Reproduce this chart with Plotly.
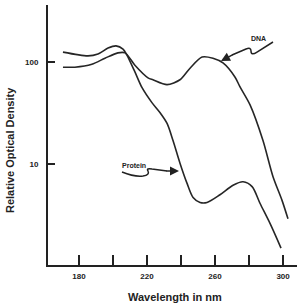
import plotly.graph_objects as go

# Data
protein_nm = [170.6, 185.3, 191.2, 197.1, 201.8, 205.9, 208.2, 212.9, 217.1, 222.9, 227.6, 231.8,
              235.3, 239.4, 243.5, 247.1, 251.2, 255.3, 262.9, 270.6, 276.5, 281.8, 286.5, 292.4, 298.8]
protein_od = [125, 115, 120, 137, 144, 134, 117, 80, 56, 40, 32, 25,
              17, 10.2, 6.5, 4.7, 4.2, 4.2, 5.0, 6.2, 6.7, 6.0, 4.1, 2.6, 1.5]
dna_nm = [170.6, 177.6, 187.6, 195.3, 202.9, 207.1, 212.9, 220.6, 223.5, 231.8, 239.4, 245.3,
          252.4, 258.8, 264.7, 271.8, 274.7, 280.6, 288.2, 294.1, 299.4, 302.9]
dna_od = [89, 89, 95, 109, 123, 123, 93, 70, 67, 60, 67, 87,
          112, 109, 98, 71, 57, 38, 17, 7.5, 4.4, 2.9]

x_tickvals = [180, 200, 220, 240, 260, 280, 300]
x_ticktext = ["180", "", "220", "", "260", "", "300"]
y_tickvals = [10, 100]
y_ticktext = ["10", "100"]

W, H = 297, 305
L, R, T, B = 48, 0, 5, 40
PW, PH = W - L - R, H - T - B

def px(x):
    return (x - L) / PW

def py(y):
    return (H - B - y) / PH

line_col = "#262626"
fig = go.Figure()
fig.add_trace(go.Scatter(x=protein_nm, y=protein_od, mode="lines", name="Protein",
                         line=dict(color=line_col, width=1.6, shape="spline", smoothing=0.8)))
fig.add_trace(go.Scatter(x=dna_nm, y=dna_od, mode="lines", name="DNA",
                         line=dict(color=line_col, width=1.6, shape="spline", smoothing=0.8)))

bold = dict(family="Liberation Sans, Arial", size=8, color="#222", weight="bold")

fig.update_layout(
    width=W, height=H, margin=dict(l=L, r=R, t=T, b=B),
    paper_bgcolor="white", plot_bgcolor="white", showlegend=False,
    xaxis=dict(range=[161.8, 308.2], tickvals=x_tickvals, ticktext=x_ticktext,
               ticks="inside", ticklen=10, tickwidth=1.5, tickcolor="#222",
               showline=True, linecolor="#222", linewidth=2, showgrid=False, zeroline=False,
               tickfont=bold, ticklabelstandoff=2),
    yaxis=dict(type="log", range=[0.01, 2.559], tickvals=y_tickvals, ticktext=y_ticktext,
               ticks="inside", ticklen=7, tickwidth=1.5, tickcolor="#222",
               showline=True, linecolor="#222", linewidth=2, showgrid=False, zeroline=False,
               tickfont=bold, ticklabelstandoff=6),
)

title_font = dict(family="Liberation Sans, Arial", size=11, color="#222", weight="bold")
fig.add_annotation(text="Wavelength in nm", xref="paper", yref="paper", x=px(175), y=py(297),
                   showarrow=False, font=title_font, xanchor="center", yanchor="middle")
fig.add_annotation(text="Relative Optical Density", xref="paper", yref="paper", x=px(10), y=py(150),
                   showarrow=False, font=title_font, textangle=-90, xanchor="center", yanchor="middle")

label_font = dict(family="Liberation Sans, Arial", size=7, color="#222", weight="bold")
fig.add_annotation(text="DNA", xref="paper", yref="paper", x=px(268), y=py(33),
                   showarrow=False, font=label_font)
fig.add_annotation(text="Protein", xref="paper", yref="paper", x=px(120), y=py(165),
                   showarrow=False, font=label_font)

def path(pts):
    s = ""
    for cmd, coords in pts:
        s += cmd + " " + " ".join(f"{px(coords[i]):.4f},{py(coords[i+1]):.4f}" for i in range(0, len(coords), 2)) + " "
    return s.strip()

# DNA squiggle arrow
dna_path = path([("M", [273, 42]), ("L", [257, 52]), ("Q", [251, 56, 251, 51]),
                 ("Q", [251, 47, 246, 49]), ("L", [232, 55])])
fig.add_shape(type="path", path=dna_path, xref="paper", yref="paper",
              line=dict(color="#222", width=1.5))
fig.add_annotation(x=px(221), y=py(61), xref="paper", yref="paper", ax=13, ay=-7,
                   text="", showarrow=True, arrowhead=2, arrowsize=1.2, arrowwidth=1.5, arrowcolor="#222")

# Protein squiggle arrow
prot_path = path([("M", [122, 172]), ("Q", [134, 177, 143, 176]), ("Q", [150, 175, 148, 171]),
                  ("Q", [146, 168, 152, 169]), ("L", [167, 171])])
fig.add_shape(type="path", path=prot_path, xref="paper", yref="paper",
              line=dict(color="#222", width=1.5))
fig.add_annotation(x=px(179), y=py(171), xref="paper", yref="paper", ax=-14, ay=0,
                   text="", showarrow=True, arrowhead=2, arrowsize=1.2, arrowwidth=1.5, arrowcolor="#222")

fig.write_html("out.html")
